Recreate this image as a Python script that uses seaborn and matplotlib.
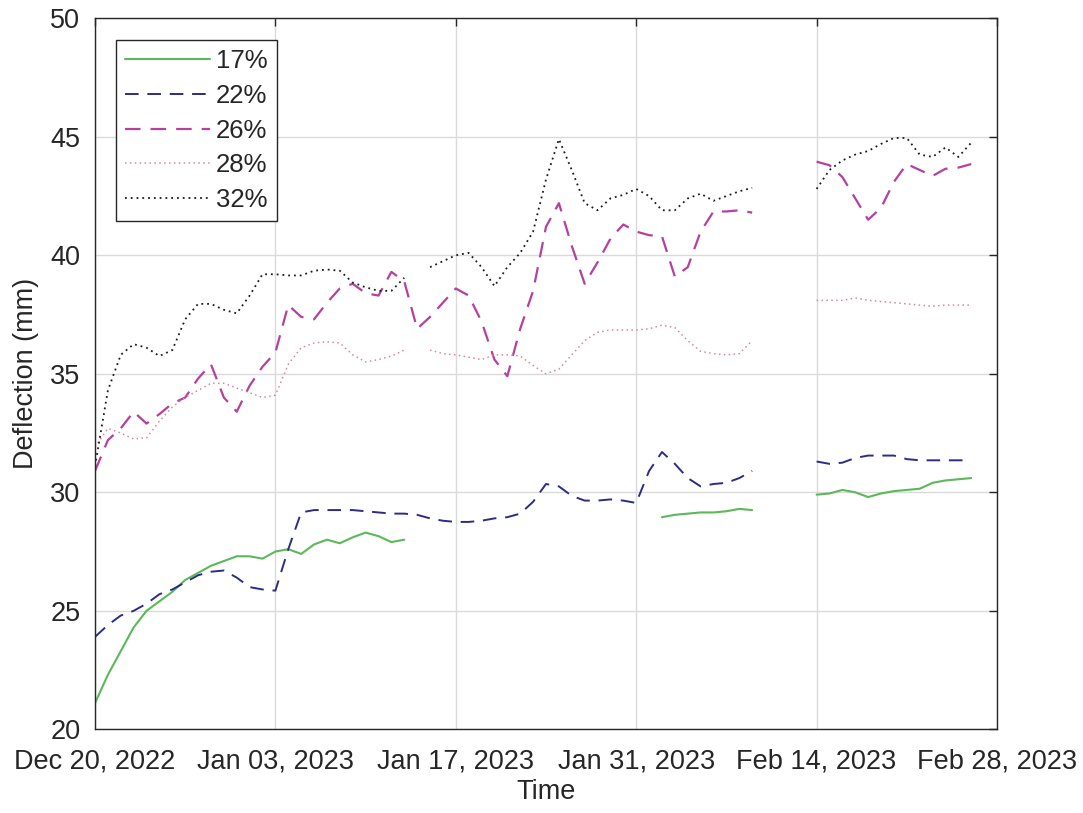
import numpy as np
import pandas as pd
import matplotlib
matplotlib.use("Agg")
import matplotlib.pyplot as plt
from matplotlib.lines import Line2D
import seaborn as sns

nan = np.nan
start_date = "2022-12-20"
n_days = 69  # Dec 20, 2022 .. Feb 26, 2023

labels = ["17%", "22%", "26%", "28%", "32%"]

s17 = [21.1, 22.3, 23.3, 24.3, 25.0, 25.4, 25.8, 26.3, 26.6, 26.9,
       27.1, 27.3, 27.3, 27.2, 27.5, 27.6, 27.4, 27.8, 28.0, 27.85,
       28.1, 28.3, 28.15, 27.9, 28.0, nan, nan, nan, nan, nan,
       nan, nan, nan, nan, nan, nan, nan, nan, nan, nan,
       nan, nan, nan, nan, 28.95, 29.05, 29.1, 29.15, 29.15, 29.2,
       29.3, 29.25, nan, nan, nan, nan, 29.9, 29.95, 30.1, 30.0,
       29.8, 29.95, 30.05, 30.1, 30.15, 30.4, 30.5, 30.55, 30.6]

s22 = [23.9, 24.4, 24.8, 25.0, 25.3, 25.7, 25.9, 26.2, 26.5, 26.65,
       26.7, 26.4, 26.0, 25.9, 25.85, 27.6, 29.15, 29.25, 29.25, 29.25,
       29.25, 29.2, 29.15, 29.1, 29.1, 29.05, 28.9, 28.8, 28.75, 28.75,
       28.8, 28.9, 28.95, 29.1, 29.6, 30.35, 30.25, 29.85, 29.65, 29.65,
       29.7, 29.65, 29.55, 30.9, 31.7, 31.2, 30.6, 30.25, 30.35, 30.4,
       30.6, 30.9, nan, nan, nan, nan, 31.3, 31.2, 31.25, 31.45,
       31.55, 31.55, 31.55, 31.4, 31.35, 31.35, 31.35, 31.35, 31.35]

s26 = [30.9, 32.2, 32.7, 33.4, 32.9, 33.3, 33.75, 34.0, 34.8, 35.4,
       34.0, 33.4, 34.5, 35.3, 35.9, 37.9, 37.4, 37.3, 38.0, 38.6,
       38.8, 38.4, 38.3, 39.3, 38.9, 36.9, 37.4, 38.0, 38.6, 38.3,
       37.2, 35.6, 34.9, 36.9, 38.5, 41.2, 42.2, 40.4, 38.8, 39.7,
       40.7, 41.3, 41.0, 40.85, 40.8, 39.1, 39.5, 41.0, 41.85, 41.85,
       41.9, 41.8, nan, nan, nan, nan, 43.95, 43.8, 43.3, 42.4,
       41.5, 42.0, 43.1, 43.85, 43.6, 43.35, 43.65, 43.7, 43.85]

s28 = [31.9, 32.7, 32.5, 32.25, 32.3, 33.0, 33.6, 34.0, 34.3, 34.6,
       34.6, 34.4, 34.2, 34.0, 34.1, 35.4, 36.1, 36.3, 36.35, 36.3,
       35.8, 35.5, 35.6, 35.75, 36.0, nan, 36.0, 35.85, 35.8, 35.7,
       35.6, 35.8, 35.8, 35.75, 35.35, 35.0, 35.2, 35.8, 36.4, 36.75,
       36.85, 36.85, 36.85, 36.9, 37.05, 36.95, 36.4, 35.95, 35.85, 35.8,
       35.85, 36.4, nan, nan, nan, nan, 38.1, 38.1, 38.1, 38.2,
       38.1, 38.05, 38.0, 37.95, 37.9, 37.85, 37.9, 37.9, 37.9]

s32 = [31.1, 34.3, 35.8, 36.25, 36.1, 35.75, 36.0, 37.3, 37.95, 37.95,
       37.7, 37.55, 38.3, 39.2, 39.2, 39.15, 39.15, 39.35, 39.4, 39.35,
       38.85, 38.65, 38.5, 38.5, 39.05, nan, 39.5, 39.75, 40.0, 40.1,
       39.5, 38.7, 39.5, 40.1, 41.0, 43.2, 44.9, 43.6, 42.2, 41.9,
       42.4, 42.55, 42.8, 42.5, 41.9, 41.9, 42.4, 42.6, 42.3, 42.5,
       42.7, 42.85, nan, nan, nan, nan, 42.8, 43.6, 44.0, 44.25,
       44.4, 44.7, 44.95, 44.95, 44.25, 44.15, 44.55, 44.15, 44.75]

series = [s17, s22, s26, s28, s32]

colors = ["#5cb85a", "#2c2c85", "#b5409e", "#d48a9e", "#1a1a1a"]
styles = [
    dict(linestyle="-", linewidth=1.5),
    dict(linestyle=(0, (7, 4.5)), linewidth=1.4),
    dict(linestyle=(0, (7, 4.5)), linewidth=1.6),
    dict(linestyle=(0, (1, 2.2)), linewidth=1.1),
    dict(linestyle=(0, (1, 2.2)), linewidth=1.3),
]

xtick_labels = ["Dec 20, 2022", "Jan 03, 2023", "Jan 17, 2023",
                "Jan 31, 2023", "Feb 14, 2023", "Feb 28, 2023"]
ytick_values = [20, 25, 30, 35, 40, 45, 50]

dates = pd.date_range(start_date, periods=n_days, freq="D")

sns.set_theme(style="white")
plt.rcParams["font.family"] = ["Liberation Sans", "DejaVu Sans"]

fig = plt.figure(figsize=(10.83, 8.13), dpi=100)
ax = fig.add_axes([95 / 1083, 1 - 729.3 / 813, (997 - 95) / 1083, (729.3 - 18.3) / 813])

for lab, vals, col, sty in zip(labels, series, colors, styles):
    df = pd.DataFrame({"Time": dates, "Deflection": vals})
    valid = df["Deflection"].notna()
    df["seg"] = (valid != valid.shift()).cumsum()
    df = df[valid]
    for _, g in df.groupby("seg"):
        sns.lineplot(data=g, x="Time", y="Deflection", ax=ax, color=col,
                     estimator=None, legend=False, **sty)

tick_dates = pd.to_datetime(xtick_labels, format="%b %d, %Y")
ax.set_xlim(tick_dates[0], tick_dates[-1])
ax.set_xticks(tick_dates)
ax.set_xticklabels(xtick_labels)
ax.set_ylim(ytick_values[0], ytick_values[-1])
ax.set_yticks(ytick_values)

ax.grid(True, color="#dadada", linewidth=1.0)
ax.tick_params(axis="both", direction="in", length=6, width=1.0,
               labelsize=19.5, colors="#262626", top=True, right=True)
ax.tick_params(axis="x", pad=14)
ax.tick_params(axis="y", pad=10.5)
for sp in ax.spines.values():
    sp.set_color("#262626")
    sp.set_linewidth(1.0)

ax.set_xlabel("Time", fontsize=19.5, color="#262626", labelpad=3)
ax.set_ylabel("Deflection (mm)", fontsize=19.5, color="#262626", labelpad=8)

handles = [Line2D([0], [0], color=c, **s) for c, s in zip(colors, styles)]
leg = ax.legend(handles, labels, loc="upper left",
                bbox_to_anchor=(0.023, 0.9695), borderaxespad=0,
                fontsize=18.5, frameon=True, fancybox=False,
                edgecolor="#262626", framealpha=1, handlelength=3.3,
                handletextpad=0.25, labelspacing=0.42, borderpad=0.35)
leg.get_frame().set_linewidth(1.0)

fig.savefig("out.png", dpi=100)
